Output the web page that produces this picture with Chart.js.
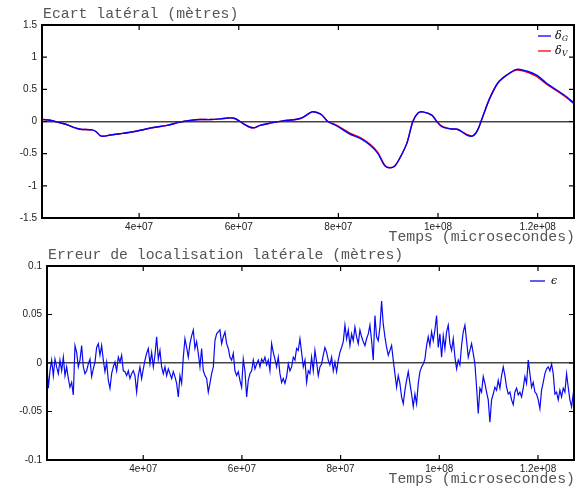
<!DOCTYPE html>
<html><head><meta charset="utf-8">
<script src="https://cdn.jsdelivr.net/npm/chart.js@4.4.1/dist/chart.umd.min.js"></script>
<style>
html,body{margin:0;padding:0;background:#fff;width:576px;height:491px;overflow:hidden}
canvas{position:absolute;left:0;background:transparent}
#c1{top:0px}
#c2{top:241px}
</style></head><body>
<canvas id="c1" width="576" height="250"></canvas>
<canvas id="c2" width="576" height="250"></canvas>
<script>
// ---------- data ----------
const xTickValues = [4e7, 6e7, 8e7, 1e8, 1.2e8];
const xTickLabels = ['4e+07', '6e+07', '8e+07', '1e+08', '1.2e+08'];
const yTopTicks = [-1.5, -1, -0.5, 0, 0.5, 1, 1.5];
const yTopLabels = ['-1.5', '-1', '-0.5', '0', '0.5', '1', '1.5'];
const yBotTicks = [-0.1, -0.05, 0, 0.05, 0.1];
const yBotLabels = ['-0.1', '-0.05', '0', '0.05', '0.1'];
const timeMin = 2.05e7, timeMax = 1.273e8;

const topTitle = 'Ecart latéral (mètres)';
const botTitle = 'Erreur de localisation latérale (mètres)';
const xTitle = 'Temps (microsecondes)';
const topNames = ['δ_G', 'δ_V'];
const botNames = ['ϵ'];

const tTop = [2.075e7,2.216e7,2.416e7,2.556e7,2.717e7,2.817e7,3.058e7,3.138e7,3.218e7,3.278e7,
 3.419e7,3.619e7,3.880e7,4.120e7,4.321e7,4.561e7,4.822e7,5.023e7,5.223e7,5.424e7,
 5.624e7,5.784e7,5.905e7,6.025e7,6.125e7,6.226e7,6.326e7,6.426e7,6.627e7,6.887e7,
 7.168e7,7.289e7,7.469e7,7.569e7,7.669e7,7.789e7,7.970e7,8.231e7,8.431e7,8.632e7,
 8.792e7,8.932e7,9.033e7,9.133e7,9.233e7,9.374e7,9.494e7,9.594e7,9.694e7,9.875e7,
 9.975e7,1.0075e8,1.0236e8,1.0396e8,1.0576e8,1.0697e8,1.0797e8,1.0897e8,1.1038e8,1.1198e8,
 1.1378e8,1.1579e8,1.1779e8,1.1980e8,1.2180e8,1.2381e8,1.2581e8,1.2722e8];
const deltaG = [0.03,0.02,-0.02,-0.05,-0.10,-0.12,-0.13,-0.16,-0.22,-0.23,
 -0.21,-0.19,-0.16,-0.12,-0.09,-0.06,-0.01,0.015,0.03,0.03,
 0.04,0.055,0.05,0.0,-0.05,-0.09,-0.095,-0.06,-0.025,0.01,
 0.035,0.065,0.15,0.14,0.10,0.0,-0.07,-0.195,-0.26,-0.365,
 -0.495,-0.69,-0.72,-0.69,-0.57,-0.34,0.0,0.13,0.15,0.10,
 0.0,-0.08,-0.115,-0.12,-0.21,-0.225,-0.13,0.075,0.36,0.595,
 0.72,0.81,0.785,0.72,0.595,0.49,0.385,0.29];
const deltaV = [0.03,0.02,-0.02,-0.05,-0.10,-0.12,-0.13,-0.16,-0.22,-0.23,
 -0.21,-0.19,-0.16,-0.12,-0.09,-0.06,-0.01,0.015,0.03,0.03,
 0.04,0.055,0.05,0.0,-0.05,-0.09,-0.095,-0.06,-0.025,0.01,
 0.035,0.065,0.15,0.14,0.10,0.0,-0.06,-0.18,-0.245,-0.35,
 -0.48,-0.68,-0.72,-0.69,-0.57,-0.34,0.0,0.13,0.15,0.10,
 0.0,-0.07,-0.11,-0.125,-0.20,-0.225,-0.13,0.075,0.36,0.595,
 0.72,0.80,0.77,0.70,0.58,0.48,0.37,0.28];

// epsilon: sampled on a regular time grid
const epsStart = 2.043e7, epsStep = 3.377e5;
const eps = [
 0.004,-0.026,-0.008,0.003,-0.013,0.004,-0.004,-0.011,0.003,-0.008,
 0.006,-0.013,-0.004,-0.016,-0.025,-0.020,-0.033,0.018,0.011,-0.004,
 0.003,0.018,-0.004,-0.011,-0.008,-0.001,0.004,-0.014,-0.006,0.001,
 0.016,0.020,0.008,0.018,0.003,-0.009,0.001,-0.018,-0.026,-0.011,
 -0.004,0.001,-0.008,0.006,0.001,0.008,-0.008,-0.009,-0.013,-0.008,
 -0.016,-0.011,-0.008,-0.013,-0.030,-0.013,-0.004,-0.016,-0.006,0.003,
 0.010,0.015,-0.001,0.011,-0.004,0.008,0.027,0.004,0.013,-0.004,
 -0.011,-0.004,-0.013,-0.006,-0.011,-0.016,-0.009,-0.014,-0.021,-0.035,
 -0.013,-0.021,0.006,0.025,0.016,0.006,0.020,0.028,0.034,0.015,
 0.022,0.010,-0.004,0.015,-0.008,-0.013,-0.016,-0.030,-0.021,-0.011,
 -0.004,0.023,0.030,0.032,0.034,
 0.020,0.027,0.032,0.020,0.015,0.006,0.003,0.010,-0.008,-0.013,
 -0.009,-0.018,-0.025,0.004,-0.008,-0.035,-0.018,-0.011,-0.008,0.003,
 -0.006,-0.001,0.003,-0.004,0.004,0.001,0.006,-0.002,0.003,-0.008,
 0.020,0.011,0.004,-0.004,0.006,-0.011,-0.020,-0.016,-0.021,-0.014,
 -0.001,-0.008,-0.004,0.006,0.003,0.015,0.013,0.025,0.011,-0.004,
 0.003,-0.020,-0.008,-0.011,0.006,-0.008,0.013,0.001,-0.013,-0.004,
 -0.001,0.008,0.016,0.011,0.003,-0.002,0.006,-0.008,0.001,-0.009,
 0.003,0.011,0.016,0.022,0.039,0.025,0.034,0.018,0.030,0.023,
 0.037,0.027,0.020,0.034,0.027,0.022,0.018,0.025,0.030,0.039,
 0.023,0.003,0.049,0.027,0.023,0.037,0.064,0.040,0.027,0.016,
 0.008,0.013,
 0.018,0.003,-0.011,-0.025,-0.013,-0.021,-0.035,-0.042,-0.028,-0.018,
 -0.009,-0.021,-0.032,-0.045,-0.032,-0.042,-0.021,-0.009,-0.004,-0.001,
 0.004,0.018,0.027,0.018,0.032,0.023,0.034,0.049,0.016,0.030,
 0.006,0.028,0.015,0.032,0.039,0.020,0.013,0.025,0.006,-0.006,
 0.003,-0.002,0.018,0.032,0.039,0.023,0.006,0.013,0.020,0.010,
 -0.001,-0.025,-0.052,-0.026,-0.030,-0.014,-0.021,-0.030,-0.038,-0.061,
 -0.038,-0.032,-0.025,-0.028,-0.018,-0.026,-0.013,-0.004,-0.013,-0.025,
 -0.032,-0.030,-0.038,-0.043,-0.030,-0.026,-0.033,-0.030,-0.035,-0.026,
 -0.014,-0.021,0.003,-0.011,-0.025,-0.020,-0.030,-0.032,-0.038,-0.047,
 -0.028,-0.020,-0.011,-0.006,-0.004,-0.008,-0.001,-0.011,-0.032,-0.030,
 -0.038,-0.028,-0.035,-0.026,-0.030,-0.011,-0.025,-0.038,-0.045,-0.032,
 -0.045];

// ---------- drawing helpers ----------
const deco = {
  id: 'deco',
  afterDraw(chart, args, o) {
    const {ctx, chartArea: a, scales: {x, y}} = chart;
    ctx.save();
    ctx.strokeStyle = '#000'; ctx.lineWidth = 1.2;
    ctx.beginPath();
    x.ticks.forEach(t => { const p = x.getPixelForValue(t.value);
      ctx.moveTo(p, a.bottom); ctx.lineTo(p, a.bottom - 5);
      ctx.moveTo(p, a.top); ctx.lineTo(p, a.top + 5); });
    y.ticks.forEach(t => { const p = y.getPixelForValue(t.value);
      ctx.moveTo(a.left, p); ctx.lineTo(a.left + 5, p);
      ctx.moveTo(a.right, p); ctx.lineTo(a.right - 5, p); });
    ctx.stroke();
    ctx.lineWidth = 2;
    ctx.strokeRect(a.left, a.top, a.right - a.left, a.bottom - a.top);
    ctx.fillStyle = '#555';
    ctx.font = '14.8px "Liberation Mono", monospace';
    ctx.textBaseline = 'middle';
    ctx.textAlign = 'left';
    ctx.fillText(o.title, a.left + 1, o.titleY);
    ctx.textAlign = 'right';
    ctx.fillText(o.xTitle, chart.width - 1, o.xTitleY);
    chart.data.datasets.forEach((ds, i) => {
      const ly = o.legendY[i];
      ctx.strokeStyle = ds.borderColor; ctx.lineWidth = 1.3;
      ctx.beginPath(); ctx.moveTo(o.legendX0, ly); ctx.lineTo(o.legendX1, ly); ctx.stroke();
      const parts = ds.label.split('_');
      ctx.fillStyle = '#000'; ctx.textAlign = 'left';
      ctx.font = 'italic 11px "DejaVu Serif", serif';
      ctx.fillText(parts[0], o.legendTextX, ly);
      if (parts[1]) {
        const w = ctx.measureText(parts[0]).width;
        ctx.font = 'italic 7.5px "DejaVu Serif", serif';
        ctx.fillText(parts[1], o.legendTextX + w + 0.5, ly + 3);
      }
    });
    ctx.restore();
  }
};

const tickFont = {family: '"Liberation Sans", Arial, sans-serif', size: 10};

function makeOptions(yTicks, yLabels, yWidth, xHeight, decoOpts) {
  return {
    responsive: false, animation: false, devicePixelRatio: 1,
    layout: {padding: {top: 25, right: 2, left: 0, bottom: 0}},
    plugins: {legend: {display: false}, title: {display: false}, tooltip: {enabled: false}, deco: decoOpts},
    elements: {point: {radius: 0}},
    scales: {
      x: {
        type: 'linear', min: timeMin, max: timeMax,
        afterBuildTicks: s => { s.ticks = xTickValues.map(v => ({value: v})); },
        afterFit: s => { s.height = xHeight; },
        ticks: {callback: v => xTickLabels[xTickValues.indexOf(v)], maxRotation: 0, autoSkip: false,
                padding: 3, font: tickFont, color: '#222'},
        grid: {display: false, drawTicks: false}, border: {display: false}
      },
      y: {
        type: 'linear', min: yTicks[0], max: yTicks[yTicks.length - 1],
        afterBuildTicks: s => { s.ticks = yTicks.map(v => ({value: v})); },
        afterFit: s => { s.width = yWidth; },
        ticks: {callback: v => yLabels[yTicks.indexOf(v)], padding: 5, font: tickFont, color: '#222'},
        grid: {drawTicks: false, lineWidth: 1.5,
               color: c => (c.tick && c.tick.value === 0) ? '#444' : 'rgba(0,0,0,0)'},
        border: {display: false}
      }
    }
  };
}

new Chart(document.getElementById('c1'), {
  type: 'line',
  data: {datasets: [
    {label: topNames[0], data: tTop.map((t, i) => ({x: t, y: deltaG[i]})),
     borderColor: '#0000ff', borderWidth: 1.4, tension: 0.3, fill: false},
    {label: topNames[1], data: tTop.map((t, i) => ({x: t, y: deltaV[i]})),
     borderColor: '#ff0000', borderWidth: 1.4, tension: 0.3, fill: false}
  ]},
  options: makeOptions(yTopTicks, yTopLabels, 42, 32,
    {title: topTitle, titleY: 14, xTitle: xTitle, xTitleY: 237,
     legendX0: 538, legendX1: 551, legendTextX: 555, legendY: [36, 51]}),
  plugins: [deco]
});

new Chart(document.getElementById('c2'), {
  type: 'line',
  data: {datasets: [
    {label: botNames[0], data: eps.map((v, i) => ({x: epsStart + i * epsStep, y: v})),
     borderColor: '#0a0af0', borderWidth: 1.2, tension: 0, fill: false}
  ]},
  options: makeOptions(yBotTicks, yBotLabels, 47, 31,
    {title: botTitle, titleY: 14, xTitle: xTitle, xTitleY: 238,
     legendX0: 530, legendX1: 545, legendTextX: 551, legendY: [40]}),
  plugins: [deco]
});
</script>
</body></html>
